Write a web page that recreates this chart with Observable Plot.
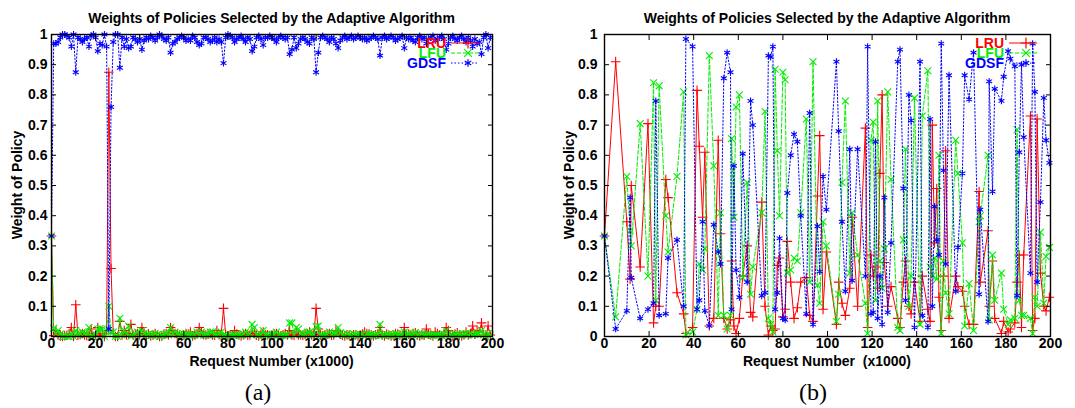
<!DOCTYPE html>
<html><head><meta charset="utf-8">
<script src="https://cdn.jsdelivr.net/npm/d3@7"></script>
<script src="https://cdn.jsdelivr.net/npm/@observablehq/plot@0.6"></script>
<style>
html,body{margin:0;padding:0;background:#fff;}
#root{position:relative;width:1075px;height:408px;overflow:hidden;font-family:"Liberation Sans",Arial,sans-serif;}
.panel{position:absolute;top:0;height:408px;}
.panel svg{position:absolute;left:0;top:0;}
.lbl{position:absolute;font-weight:bold;font-size:14px;line-height:14px;white-space:pre;transform:translateX(-50%);color:#000;}
.ylbl{position:absolute;font-weight:bold;font-size:14px;line-height:14px;white-space:nowrap;transform:translate(-50%,-50%) rotate(-90deg);}
.cap{position:absolute;font-family:"Liberation Serif","Times New Roman",serif;font-size:24px;line-height:24px;transform:translateX(-50%);}
</style>
</head><body><div id="root"></div>
<script>
// ---------- shared ----------
const title = "Weights of Policies Selected by the Adaptive Algorithm";
const yLabel = "Weight of Policy";
const xLabelA = "Request Number (x1000)";
const xLabelB = "Request Number  (x1000)";
const xTicks = [0,20,40,60,80,100,120,140,160,180,200];
const xTickLabels = ["0","20","40","60","80","100","120","140","160","180","200"];
const yTicks = [0,0.1,0.2,0.3,0.4,0.5,0.6,0.7,0.8,0.9,1];
const yTickLabels = ["0","0.1","0.2","0.3","0.4","0.5","0.6","0.7","0.8","0.9","1"];
const seriesNames = ["LRU","LFU","GDSF"];

// ---------- panel (a): one sample per 1000 requests ----------
const xA = d3.range(0, 200);
const lruA = [
0.333,0.003,0.02,0.005,0.002,0.0,0.003,0.004,0.01,0.03,0.0,0.105,0.004,0.006,0.01,0.005,0.003,0.01,0.025,0.0,
0.005,0.03,0.004,0.01,0.0,0.02,0.875,0.225,0.01,0.0,0.0,0.05,0.005,0.02,0.006,0.01,0.04,0.005,0.008,0.01,
0.005,0.03,0.01,0.004,0.008,0.002,0.005,0.01,0.004,0.0,0.002,0.008,0.01,0.005,0.03,0.02,0.01,0.006,0.004,0.002,
0.005,0.01,0.008,0.015,0.002,0.005,0.01,0.03,0.015,0.006,0.005,0.008,0.01,0.005,0.004,0.02,0.006,0.01,0.093,0.005,
0.0,0.003,0.005,0.02,0.008,0.005,0.002,0.006,0.01,0.004,0.005,0.015,0.01,0.004,0.002,0.008,0.015,0.005,0.006,0.003,
0.005,0.008,0.01,0.004,0.002,0.006,0.01,0.005,0.02,0.005,0.004,0.015,0.005,0.006,0.004,0.008,0.01,0.015,0.005,0.008,
0.093,0.025,0.005,0.002,0.006,0.008,0.01,0.004,0.005,0.02,0.015,0.008,0.004,0.002,0.006,0.005,0.002,0.006,0.005,0.002,
0.005,0.008,0.015,0.01,0.008,0.005,0.002,0.006,0.008,0.03,0.005,0.002,0.008,0.005,0.002,0.005,0.01,0.008,0.005,0.002,
0.03,0.005,0.008,0.004,0.01,0.012,0.005,0.002,0.006,0.004,0.025,0.008,0.005,0.002,0.015,0.01,0.005,0.002,0.008,0.03,
0.02,0.005,0.002,0.008,0.012,0.005,0.002,0.006,0.015,0.005,0.01,0.035,0.008,0.02,0.015,0.045,0.005,0.0,0.035,0.005];
const lfuA = [
0.333,0.027,0.01,0.02,0.008,0.0,0.0,0.001,0.0,0.01,0.0,0.02,0.006,0.009,0.015,0.01,0.007,0.03,0.0,0.0,
0.005,0.025,0.026,0.025,0.0,0.02,0.1,0.015,0.015,0.0,0.0,0.06,0.005,0.02,0.009,0.035,0.0,0.005,0.007,0.015,
0.01,0.02,0.01,0.006,0.007,0.003,0.005,0.01,0.006,0.0,0.003,0.007,0.01,0.005,0.03,0.01,0.015,0.009,0.006,0.003,
0.005,0.01,0.007,0.005,0.003,0.005,0.015,0.005,0.015,0.004,0.005,0.007,0.015,0.015,0.006,0.005,0.009,0.015,0.002,0.005,
0.0,0.002,0.005,0.005,0.007,0.005,0.003,0.009,0.015,0.006,0.01,0.04,0.03,0.006,0.003,0.007,0.02,0.005,0.004,0.002,
0.005,0.007,0.015,0.006,0.003,0.004,0.005,0.005,0.045,0.045,0.006,0.03,0.025,0.009,0.006,0.007,0.015,0.015,0.005,0.007,
0.032,0.035,0.005,0.003,0.004,0.007,0.015,0.006,0.01,0.01,0.03,0.012,0.006,0.003,0.009,0.005,0.003,0.009,0.005,0.003,
0.005,0.007,0.0,0.01,0.007,0.005,0.003,0.004,0.007,0.04,0.005,0.003,0.007,0.005,0.003,0.005,0.01,0.007,0.005,0.003,
0.015,0.005,0.007,0.006,0.01,0.013,0.005,0.003,0.009,0.006,0.005,0.007,0.005,0.003,0.005,0.005,0.005,0.003,0.007,0.02,
0.01,0.005,0.003,0.007,0.008,0.005,0.003,0.009,0.01,0.005,0.01,0.005,0.007,0.01,0.01,0.02,0.005,0.0,0.01,0.005];
const gdsfA = [
0.333,0.97,0.97,0.975,0.99,1.0,1.0,0.995,0.99,0.96,1.0,0.875,0.99,0.985,0.975,0.985,0.99,0.96,0.995,1.0,
0.99,0.945,0.97,0.965,1.0,0.96,0.025,0.76,0.975,1.0,1.0,0.89,0.99,0.96,0.985,0.955,0.96,0.99,0.985,0.975,
0.985,0.95,0.98,0.99,0.985,0.995,0.99,0.98,0.99,1.0,0.995,0.985,0.98,0.99,0.94,0.97,0.975,0.985,0.99,0.995,
0.99,0.98,0.985,0.98,0.995,0.99,0.975,0.965,0.97,0.99,0.99,0.985,0.975,0.98,0.99,0.975,0.985,0.975,0.905,0.99,
1.0,0.995,0.99,0.975,0.985,0.99,0.995,0.985,0.975,0.99,0.985,0.945,0.96,0.99,0.995,0.985,0.965,0.99,0.99,0.995,
0.99,0.985,0.975,0.99,0.995,0.99,0.985,0.99,0.935,0.95,0.99,0.955,0.97,0.985,0.99,0.985,0.975,0.97,0.99,0.985,
0.875,0.94,0.99,0.995,0.99,0.985,0.975,0.99,0.985,0.97,0.955,0.98,0.99,0.995,0.985,0.99,0.995,0.985,0.99,0.995,
0.99,0.985,0.99,0.98,0.985,0.99,0.995,0.99,0.985,0.93,0.99,0.995,0.985,0.99,0.995,0.99,0.98,0.985,0.99,0.995,
0.955,0.99,0.985,0.99,0.98,0.975,0.99,0.995,0.985,0.99,0.97,0.985,0.99,0.995,0.98,0.985,0.99,0.995,0.985,0.95,
0.97,0.99,0.995,0.985,0.98,0.99,0.995,0.985,0.975,0.99,0.98,0.96,0.985,0.97,0.975,0.935,0.99,1.0,0.955,0.99];

// ---------- panel (b) ----------
const xB = [0,5,10,11.5,12,16,19.5,22,23,24.5,27.5,28.5,32.5,35.5,36.5,39.5,41.5,42.5,44,45,47,49,51,52,53.5,55,56.5,57,58,59,
60.5,62,64,65.5,66.5,70.5,72,73.5,74.5,75.5,76.5,77.5,78.5,80,81,82,83.5,85,86.5,88,90.5,92,93.5,95.5,96.5,98,99.5,
104,105,106.5,108,110,111,113.5,117,118,119.5,120.5,121.5,122.5,123.5,124.5,125.5,127,128.5,131.5,132.5,134,135,136.5,137.5,139,
141.5,142.5,145,146,147,148,149,150,151,152,153,154.5,157.5,158.5,160.5,161.5,163.5,165.5,168,168.5,172,172.5,174,175,178,179,
181,182,184,185,186,187,188,191,192,193,194,195.5,197,198,199.5];
const lruB = [0.333,0.91,0.38,0.19,0.50,0.23,0.705,0.045,0.10,0.10,0.52,0.46,0.145,0.075,0.01,0.03,0.815,0.63,0.395,0.61,0.035,0.06,0.65,0.34,0.06,0.025,0.055,0.25,0.035,0.01,
0.06,0.20,0.30,0.08,0.065,0.445,0.10,0.005,0.035,0.02,0.025,0.235,0.26,0.065,0.09,0.315,0.18,0.06,0.095,0.18,0.195,0.07,0.05,0.465,0.665,0.09,0.28,
0.04,0.18,0.11,0.07,0.16,0.395,0.10,0.69,0.03,0.27,0.20,0.23,0.16,0.54,0.80,0.245,0.10,0.165,0.06,0.03,0.18,0.25,0.10,0.075,0.18,
0.05,0.20,0.09,0.05,0.70,0.31,0.49,0.13,0.02,0.20,0.615,0.06,0.20,0.165,0.15,0.10,0.04,0.04,0.48,0.18,0.35,0.10,0.25,0.06,0.01,0.05,
0.015,0.025,0.045,0.18,0.27,0.03,0.27,0.73,0.02,0.06,0.72,0.21,0.10,0.085,0.13];
const lfuB = [0.333,0.065,0.53,0.35,0.30,0.705,0.20,0.84,0.12,0.83,0.40,0.28,0.53,0.81,0.005,0.015,0.09,0.24,0.22,0.29,0.93,0.565,0.07,0.41,0.07,0.025,0.07,0.655,0.395,0.76,
0.80,0.195,0.51,0.14,0.23,0.41,0.745,0.06,0.04,0.015,0.885,0.615,0.40,0.875,0.85,0.21,0.22,0.26,0.25,0.41,0.72,0.18,0.91,0.17,0.11,0.38,0.30,
0.05,0.14,0.51,0.78,0.21,0.41,0.27,0.11,0.01,0.65,0.71,0.12,0.78,0.25,0.16,0.29,0.81,0.52,0.03,0.02,0.32,0.62,0.10,0.20,0.79,
0.04,0.73,0.88,0.23,0.20,0.26,0.19,0.60,0.01,0.25,0.145,0.075,0.65,0.54,0.31,0.035,0.175,0.02,0.38,0.40,0.60,0.055,0.27,0.12,0.21,0.09,
0.04,0.055,0.06,0.685,0.12,0.07,0.07,0.06,0.01,0.13,0.10,0.345,0.11,0.265,0.295];
const gdsfB = [0.333,0.025,0.085,0.46,0.195,0.06,0.09,0.11,0.78,0.07,0.075,0.26,0.32,0.10,0.985,0.96,0.09,0.12,0.38,0.085,0.035,0.37,0.28,0.24,0.855,0.94,0.875,0.09,0.565,0.22,
0.13,0.605,0.18,0.78,0.70,0.135,0.145,0.93,0.925,0.96,0.09,0.145,0.325,0.06,0.055,0.475,0.60,0.67,0.645,0.40,0.075,0.74,0.04,0.365,0.215,0.53,0.42,
0.91,0.68,0.38,0.15,0.62,0.185,0.62,0.20,0.96,0.075,0.08,0.645,0.06,0.20,0.04,0.46,0.08,0.31,0.91,0.95,0.49,0.12,0.80,0.715,0.03,
0.91,0.07,0.03,0.72,0.10,0.43,0.32,0.27,0.97,0.55,0.24,0.865,0.15,0.295,0.54,0.865,0.785,0.94,0.14,0.42,0.05,0.845,0.48,0.82,0.78,0.86,
0.945,0.92,0.895,0.135,0.61,0.90,0.66,0.21,0.97,0.81,0.18,0.445,0.79,0.65,0.575];

// ---------- styles ----------
const styles = {
  LRU:  {color: "#ff0000", dash: null,  symbol: "plus",     d3sym: d3.symbolPlus},
  LFU:  {color: "#00ee00", dash: "4,2", symbol: "times",    d3sym: d3.symbolTimes},
  GDSF: {color: "#0000ff", dash: "1.5,2", symbol: "asterisk", d3sym: d3.symbolAsterisk}
};

function legendMark(dims) {
  return () => {
    const g = d3.create("svg:g").attr("font-size", 14).attr("font-weight", "bold")
      .attr("font-family", '"Liberation Sans",Arial,sans-serif');
    const xr = dims.width - dims.marginRight;
    seriesNames.forEach((name, i) => {
      const s = styles[name];
      const cy = dims.marginTop + 9 + i * 10;
      g.append("line").attr("x1", xr - 41).attr("x2", xr - 13).attr("y1", cy).attr("y2", cy)
        .attr("stroke", s.color).attr("stroke-width", 1).attr("stroke-dasharray", s.dash);
      g.append("path").attr("transform", `translate(${xr - 24},${cy})`)
        .attr("d", d3.symbol(s.d3sym, 40)()).attr("fill", "none").attr("stroke", s.color).attr("stroke-width", 1.2);
      g.append("text").attr("x", xr - 46).attr("y", cy + 5).attr("text-anchor", "end")
        .attr("fill", s.color).text(name);
    });
    return g.node();
  };
}

function makePanel(opts) {
  const {left, width, height, marginLeft, marginRight, marginTop, marginBottom, x, values, xLabel, caption, yLabelX, tickPadY} = opts;
  const div = document.createElement("div");
  div.className = "panel";
  div.style.left = left + "px";
  div.style.width = width + "px";
  const dims = {width, height, marginLeft, marginRight, marginTop, marginBottom};
  const marks = [];
  seriesNames.forEach((name, k) => {
    const s = styles[name];
    const data = x.map((xv, i) => ({x: xv, y: values[k][i]}));
    marks.push(Plot.line(data, {x: "x", y: "y", stroke: s.color, strokeWidth: 1, strokeDasharray: s.dash}));
    marks.push(Plot.dot(data, {x: "x", y: "y", symbol: s.symbol, stroke: s.color, fill: "none", r: 3.2, strokeWidth: 1.1}));
  });
  marks.push(
    Plot.axisX({ticks: xTicks, anchor: "bottom", tickSize: -5, tickPadding: 7, tickFormat: (d, i) => xTickLabels[i], label: null}),
    Plot.axisX({ticks: xTicks, anchor: "top", tickSize: -5, tickFormat: () => "", label: null}),
    Plot.axisY({ticks: yTicks, anchor: "left", tickSize: -5, tickPadding: tickPadY, tickFormat: (d, i) => yTickLabels[i], label: null}),
    Plot.axisY({ticks: yTicks, anchor: "right", tickSize: -5, tickFormat: () => "", label: null}),
    Plot.frame({stroke: "black", strokeWidth: 1.4}),
    legendMark(dims)
  );
  const svg = Plot.plot({
    width, height, marginLeft, marginRight, marginTop, marginBottom,
    x: {domain: [0, 200]},
    y: {domain: [0, 1]},
    style: {fontFamily: '"Liberation Sans",Arial,sans-serif', fontSize: "14px", fontWeight: "bold", color: "black", background: "white"},
    marks
  });
  div.appendChild(svg);
  const cx = marginLeft + (width - marginLeft - marginRight) / 2;
  const t = document.createElement("div"); t.className = "lbl"; t.textContent = title;
  t.style.left = cx + "px"; t.style.top = "10.5px"; div.appendChild(t);
  const xl = document.createElement("div"); xl.className = "lbl"; xl.textContent = xLabel;
  xl.style.left = cx + "px"; xl.style.top = "354px"; div.appendChild(xl);
  const yl = document.createElement("div"); yl.className = "ylbl"; yl.textContent = yLabel;
  yl.style.left = yLabelX + "px"; yl.style.top = "185px"; div.appendChild(yl);
  const c = document.createElement("div"); c.className = "cap"; c.textContent = caption;
  c.style.left = opts.capX + "px"; c.style.top = "380px"; div.appendChild(c);
  document.getElementById("root").appendChild(div);
}

makePanel({left: 0, width: 540, height: 372, marginLeft: 51, marginRight: 48, marginTop: 34, marginBottom: 36,
  x: xA, values: [lruA, lfuA, gdsfA], xLabel: xLabelA, caption: "(a)", yLabelX: 17, tickPadY: 9, capX: 258});
makePanel({left: 540, width: 535, height: 372, marginLeft: 64, marginRight: 25, marginTop: 34, marginBottom: 36,
  x: xB, values: [lruB, lfuB, gdsfB], xLabel: xLabelB, caption: "(b)", yLabelX: 29, tickPadY: 12, capX: 273});
</script>
</body></html>
